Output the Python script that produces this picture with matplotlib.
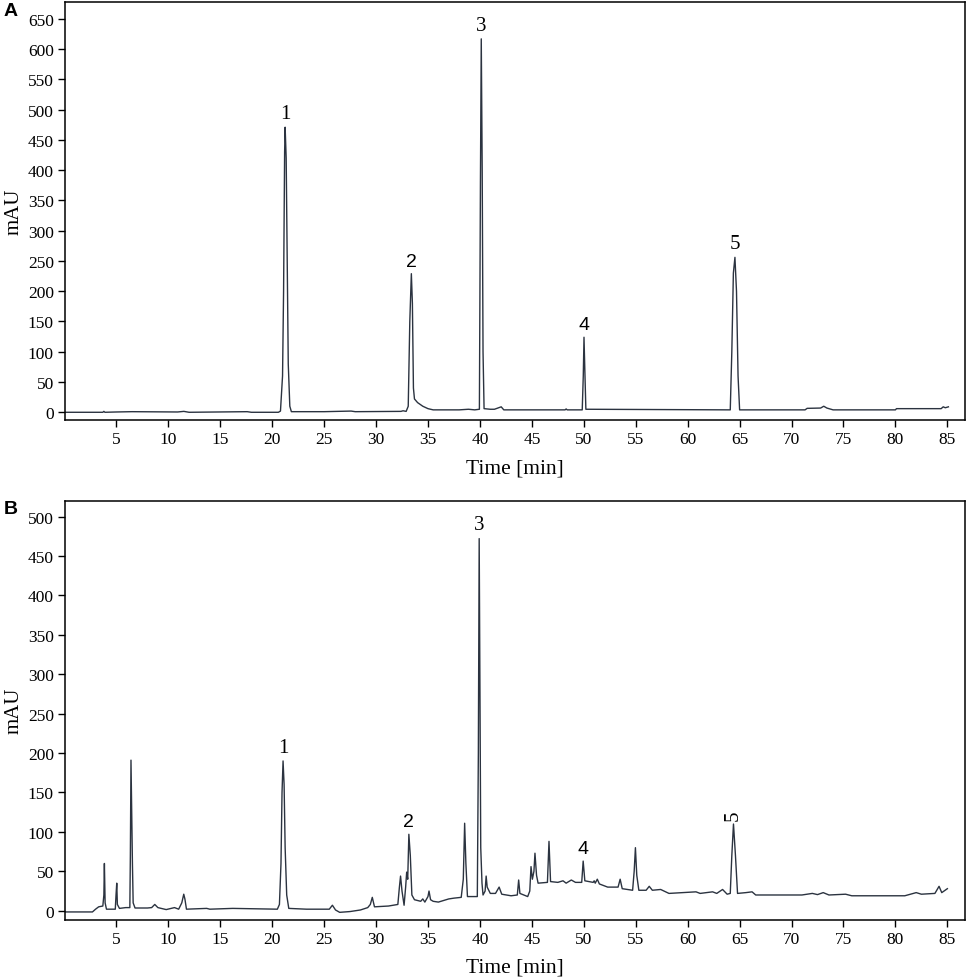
import matplotlib
matplotlib.use('Agg')
import matplotlib.pyplot as plt

# panel A: standard mixture, trace points (min, mAU)
time_a = [0.1, 3.7, 3.8, 3.9, 5.0, 6.5, 10.9, 11.5, 12.0, 17.6, 18.0, 20.6,
          20.8, 21.0, 21.1, 21.2, 21.25, 21.35, 21.45, 21.55, 21.7, 21.85,
          25.0, 27.6, 28.0, 32.4, 32.6, 32.9, 33.1, 33.25, 33.4, 33.5, 33.6,
          33.7, 34.0, 34.5, 35.0, 35.5, 38.0, 38.9, 39.5, 39.95, 40.05, 40.13,
          40.22, 40.3, 40.4, 41.0, 41.4, 42.05, 42.3, 48.2, 48.3, 48.4, 49.85,
          49.95, 50.02, 50.1, 50.2, 64.1, 64.25, 64.4, 64.55, 64.7, 64.85,
          65.0, 71.3, 71.5, 72.8, 73.1, 73.4, 74.0, 80.0, 80.1, 84.4, 84.6,
          84.8, 85.1]
mau_a = [0, 0, 1.5, 0, 0.5, 1, 0.5, 1.5, 0, 1, 0, 0,
         2, 60, 200, 430, 471, 420, 250, 80, 10, 1,
         1, 2, 1, 1.5, 2.5, 1.5, 10, 150, 229, 180, 40,
         22, 16, 10, 6, 4, 4, 5, 4, 5, 380, 617,
         400, 100, 6, 5, 5, 9, 4, 4, 5.5, 4, 4,
         60, 124, 70, 5, 4, 100, 230, 256, 200, 60,
         4, 4, 6.5, 7, 10, 7, 4, 4, 6, 6, 9,
         7.5, 9]

# panel B: sample extract
time_b = [0.1, 2.7, 3.0, 3.3, 3.7, 3.8, 3.85, 3.92, 4.05, 4.9, 4.97, 5.04,
          5.1, 5.3, 5.9, 6.3, 6.35, 6.41, 6.48, 6.55, 6.62, 6.8, 8.0, 8.4,
          8.7, 9.0, 9.8, 10.6, 11.0, 11.3, 11.49, 11.6, 11.75, 13.7, 14.0,
          16.2, 20.5, 20.7, 20.85, 20.95, 21.05, 21.15, 21.25, 21.4, 21.6,
          23.3, 25.5, 25.8, 26.1, 26.5, 27.5, 28.5, 29.2, 29.45, 29.64, 29.85,
          31.2, 32.1, 32.25, 32.36, 32.5, 32.7, 32.85, 32.95, 33.05, 33.16,
          33.3, 33.45, 33.7, 34.3, 34.5, 34.7, 35.0, 35.1, 35.25, 35.5, 36.0,
          37.0, 37.5, 38.2, 38.4, 38.53, 38.65, 38.8, 39.75, 39.85, 39.93,
          40.0, 40.08, 40.2, 40.3, 40.5, 40.6, 40.7, 41.0, 41.5, 41.85, 42.1,
          43.0, 43.6, 43.73, 43.85, 44.6, 44.8, 44.92, 45.05, 45.2, 45.3,
          45.45, 45.6, 46.5, 46.65, 46.8, 47.5, 48.0, 48.3, 48.8, 49.2, 49.8,
          49.94, 50.1, 50.9, 51.0, 51.1, 51.3, 51.5, 52.3, 53.3, 53.5, 53.7,
          54.7, 54.85, 54.97, 55.1, 55.3, 56.0, 56.3, 56.6, 57.4, 58.2, 60.8,
          61.2, 62.4, 62.8, 63.36, 63.8, 64.1, 64.25, 64.41, 64.6, 64.8, 65.6,
          66.2, 66.55, 71.0, 72.0, 72.5, 73.05, 73.6, 75.2, 75.8, 80.9, 82.0,
          82.5, 83.8, 84.2, 84.46, 85.0]
mau_b = [-1.5, -1.5, 2, 5, 6, 20, 60, 10, 2, 2, 20, 35,
         8, 3, 4, 4, 70, 191, 120, 59, 10, 3.5, 3.5, 4,
         8, 4, 1.5, 4, 2, 10, 21, 15, 2, 3, 2,
         3, 2, 8, 60, 150, 190, 160, 80, 20, 3,
         2, 2, 7, 1, -2, -1, 1, 4, 8, 17, 5,
         6, 8, 30, 44, 25, 7, 30, 49, 40, 97,
         70, 20, 14, 12, 15, 11, 18, 25, 14, 12, 11,
         15, 16, 17, 40, 111, 60, 18, 18, 200, 472,
         300, 80, 35, 20, 25, 44, 30, 22, 22, 30, 21,
         19, 20, 39, 22, 18, 25, 56, 40, 50, 73,
         45, 35, 36, 88, 37, 36, 38, 35, 39, 36, 36,
         63, 38, 36, 38, 35, 40, 34, 30, 30, 40, 28,
         26, 50, 80, 45, 26, 26, 31, 26, 27, 22, 24,
         22, 24, 22, 27, 21, 22, 70, 110, 70, 22, 23,
         24, 20, 20, 22, 20.5, 23, 20, 21, 19, 19, 23,
         21, 22, 31, 23, 28]

# numbered peaks: (time, apex height)
peaks_a_t = [21.25, 33.4, 40.13, 50.02, 64.55]
peaks_a_h = [471, 229, 617, 124, 256]
peaks_b_t = [21.05, 33.16, 39.93, 49.94, 64.41]
peaks_b_h = [190, 97, 472, 63, 110]
peak_names = ['1', '2', '3', '4', '5']
# the figure mixes label typefaces: 2 and 4 are sans
peak_fonts = ['Liberation Serif', 'Liberation Sans', 'Liberation Serif',
              'Liberation Sans', 'Liberation Serif']

xticks = list(range(5, 90, 5))
yticks_a = list(range(0, 700, 50))
yticks_b = list(range(0, 550, 50))

serif = 'Liberation Serif'
line_col = '#2b3340'

fig = plt.figure(figsize=(9.69, 9.79), dpi=100)
ax_a = fig.add_axes([0.0671, 0.5700, 0.9288, 0.4270])
ax_b = fig.add_axes([0.0671, 0.0595, 0.9288, 0.4280])


def draw_panel(ax, t, y, pk_t, pk_h, ylim, yticks, rot5=False):
    ax.plot(t, y, color=line_col, lw=1.0)
    ax.set_xlim(0.06, 86.7)
    ax.set_ylim(*ylim)
    ax.set_xticks(xticks)
    ax.set_yticks(yticks)
    ax.tick_params(direction='out', length=5, width=1, labelsize=12.5, pad=3)
    for lab in ax.get_xticklabels() + ax.get_yticklabels():
        lab.set_fontfamily(serif)
    for sp in ax.spines.values():
        sp.set_linewidth(1.1)
    ax.set_xlabel('Time [min]', fontfamily=serif, fontsize=15.5, labelpad=8)
    ax.set_ylabel('mAU', fontfamily=serif, fontsize=15, labelpad=3)
    for i, (px, ph) in enumerate(zip(pk_t, pk_h)):
        rot = 90 if (rot5 and i == 4) else 0
        fs = 14 if peak_fonts[i] == 'Liberation Sans' else 15
        ax.annotate(peak_names[i], xy=(px, ph), xytext=(0, 3),
                    textcoords='offset points', ha='center', va='bottom',
                    fontfamily=peak_fonts[i], fontsize=fs, rotation=rot)


draw_panel(ax_a, time_a, mau_a, peaks_a_t, peaks_a_h, (-12.7, 678), yticks_a)
draw_panel(ax_b, time_b, mau_b, peaks_b_t, peaks_b_h, (-11.4, 520), yticks_b,
           rot5=True)

fig.text(0.004, 0.988, 'A', fontfamily='Liberation Sans', fontweight='bold',
         fontsize=14, va='center', ha='left')
fig.text(0.004, 0.480, 'B', fontfamily='Liberation Sans', fontweight='bold',
         fontsize=14, va='center', ha='left')

fig.savefig('out.png', dpi=100)
